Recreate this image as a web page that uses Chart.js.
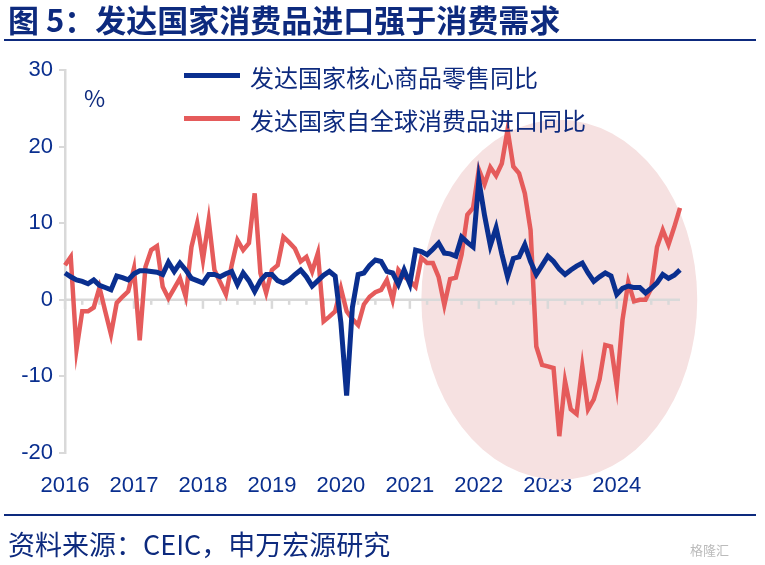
<!DOCTYPE html>
<html><head><meta charset="utf-8">
<script src="https://cdn.jsdelivr.net/npm/chart.js@4"></script>
<style>
body{margin:0;background:#fff;font-family:"Noto Sans CJK SC",sans-serif;}
#wrap{position:absolute;left:0;top:0;width:765px;height:565px;}
.t{position:absolute;white-space:nowrap;}
</style></head><body>
<div id="wrap"><canvas id="c" width="765" height="565"></canvas></div>
<div class="t" style="left:8px;top:-4px;font-size:31px;font-weight:bold;color:#0d2a7e;">图 5：发达国家消费品进口强于消费需求</div>
<div style="position:absolute;left:4px;top:39px;width:752px;height:2px;background:#0d2a7e;"></div>
<div style="position:absolute;left:4px;top:514px;width:752px;height:2px;background:#0d2a7e;"></div>
<div class="t" style="left:8px;top:524px;font-size:27px;color:#0d2a7e;">资料来源：CEIC，申万宏源研究</div>
<div class="t" style="left:690px;top:540px;font-size:13px;color:#bbb;">格隆汇</div>
<div class="t" style="left:84px;top:80px;font-size:23px;color:#0d2a7e;">%</div>
<div style="position:absolute;left:184px;top:73px;width:56px;height:5px;background:#0a2f8f;"></div>
<div class="t" style="left:250px;top:59px;font-size:24px;color:#0d2a7e;">发达国家核心商品零售同比</div>
<div style="position:absolute;left:184px;top:116px;width:56px;height:5px;background:#e55b5b;"></div>
<div class="t" style="left:250px;top:102px;font-size:24px;color:#0d2a7e;">发达国家自全球消费品进口同比</div>
<script>
const years = ["2016","2017","2018","2019","2020","2021","2022","2023","2024"];
const months = [];
years.forEach(y=>{for(let m=1;m<=12;m++)months.push(y+"-"+String(m).padStart(2,"0"));});
const yTicks = [30,20,10,0,-10,-20];
const retailYoY = [3.5,3.0,2.6,2.4,2.1,2.6,1.9,1.6,1.3,3.1,2.9,2.6,
3.4,3.8,3.8,3.7,3.6,3.3,4.9,3.7,4.8,3.9,2.8,2.5,
2.2,3.3,3.3,3.0,3.4,3.7,2.0,3.5,2.5,1.1,2.5,3.3,
3.3,2.5,2.2,2.6,3.3,3.9,3.0,1.8,2.5,3.2,3.7,3.1,
-3,-12.5,-1,3.3,3.5,4.5,5.2,5.0,3.7,3.5,2.0,3.9,
2.1,6.5,6.3,5.9,6.6,7.4,6.1,6.0,5.7,8.2,7.5,6.9,
15.6,11,7.1,9.4,6,3.0,5.4,5.6,7.2,5,3.3,4.5,
5.7,5.0,4,3.3,3.9,4.4,4.8,3.5,2.4,3.0,3.5,3.1,
0.7,1.5,1.8,1.6,1.6,0.9,1.5,2.2,3.3,2.8,3.2,3.9];
const importYoY = [4.5,5.6,-6.5,-1.5,-1.5,-1.0,1.6,-1.5,-4.5,-0.4,0.4,1.1,
4.1,-5.3,4.3,6.5,7.0,1.7,0.2,1.5,2.8,0.4,6.9,10,
5.2,10.4,3.9,2.3,0.7,4.5,7.8,6.5,7.4,13.9,3.5,0.9,
3.9,4.5,8.2,7.5,6.7,5,5.6,3.7,6.1,-2.8,-2.2,-1.5,
1.5,-1.5,-2.5,-3.3,-0.6,0.4,1.0,1.3,2.6,0,3.9,3.0,
2.5,1.7,5.5,4.8,4.8,3.0,-0.7,2.7,2.9,5.9,11.1,12,
17,15.1,17.3,16.2,17.8,22.2,17.4,16.5,13.9,9.1,-6.1,-8.5,
-8.7,-8.9,-17.8,-10.6,-14.3,-14.9,-8.7,-14.3,-13.0,-10.4,-5.9,-6.1,
-11.3,-2.6,2.3,-0.2,0,0,1.5,6.9,9.1,7.2,9.5,12];
const blue="#0a2f8f", red="#e55b5b", grey="#d9d9d9";
const decor={id:'decor',
 beforeDatasetsDraw(ch){const {ctx,scales:{x,y}}=ch;
  const a=x.getPixelForValue(62), b=x.getPixelForValue(110);
  const cx=(a+b)/2, rx=(b-a)/2;
  const cy=y.getPixelForValue(0), ry=y.getPixelForValue(0)-y.getPixelForValue(23.5);
  ctx.save();ctx.fillStyle="#f6e1e1";ctx.beginPath();ctx.ellipse(cx,cy,rx,ry,0,0,Math.PI*2);ctx.fill();
  ctx.strokeStyle=grey;ctx.lineWidth=2.5;ctx.beginPath();ctx.moveTo(x.left,cy);ctx.lineTo(x.right,cy);ctx.stroke();
  for(let i=0;i<months.length;i+=3){const px=x.getPixelForValue(i);ctx.beginPath();ctx.moveTo(px,cy);ctx.lineTo(px,cy+(i%12===0?9:5));ctx.stroke();}
  ctx.restore();}};
new Chart(document.getElementById('c'),{type:'line',
 data:{labels:months,datasets:[
  {data:retailYoY,borderColor:blue,borderWidth:5,pointRadius:0,tension:0},
  {data:importYoY,borderColor:red,borderWidth:4.5,pointRadius:0,tension:0}]},
 options:{responsive:false,animation:false,
  layout:{padding:{left:15,top:70,right:85,bottom:65}},
  plugins:{legend:{display:false},tooltip:{enabled:false}},
  scales:{
   x:{type:'category',offset:false,grid:{display:false},border:{display:false},
      afterFit(s){s.height=47;},
      ticks:{autoSkip:false,maxRotation:0,color:blue,font:{size:22,family:"Liberation Sans"},padding:12,
        callback:(v,i)=>i%12===0?months[i].slice(0,4):''}},
   y:{min:-20,max:30,afterFit(s){s.width=50;},
      afterBuildTicks(s){s.ticks=yTicks.map(v=>({value:v}));},
      grid:{drawOnChartArea:false,tickLength:6,tickColor:grey,lineWidth:2},
      border:{display:true,color:grey,width:2.5},
      ticks:{color:blue,font:{size:22,family:"Liberation Sans"},padding:6}}}},
 plugins:[decor]});
</script></body></html>
